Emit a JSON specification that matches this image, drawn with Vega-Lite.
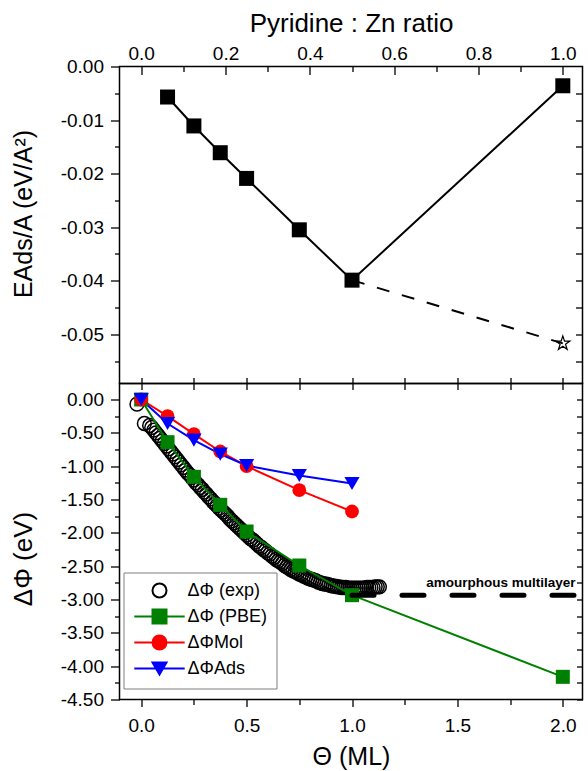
{
  "$schema": "https://vega.github.io/schema/vega-lite/v6.json",
  "padding": {"left": 8.5, "top": 9.5, "right": 0, "bottom": 0},
  "background": "white",
  "spacing": 0,
  "bounds": "flush",
  "config": {
    "view": {"stroke": "black", "strokeWidth": 1.5},
    "axis": {"labelFont": "Liberation Sans", "labelFontSize": 19, "labelColor": "black", "titleFont": "Liberation Sans", "titleFontSize": 25, "titleFontWeight": "normal", "titleColor": "black", "domain": false, "grid": false, "tickColor": "black", "tickWidth": 1.3},
    "legend": {"orient": "none", "legendX": 4, "legendY": 506, "padding": 9, "strokeColor": "#7f7f7f", "fillColor": "white", "labelFont": "Liberation Sans", "labelFontSize": 18, "labelColor": "black", "symbolSize": 196, "symbolStrokeWidth": 2, "symbolOffset": 18, "labelOffset": 19, "rowPadding": 4, "symbolOpacity": 1}
  },
  "datasets": {
    "top": [
      {"r": 0.0625, "e": -0.0057}, {"r": 0.125, "e": -0.0111}, {"r": 0.1875, "e": -0.0161}, {"r": 0.25, "e": -0.0209},
      {"r": 0.375, "e": -0.0305}, {"r": 0.5, "e": -0.0399}, {"r": 1.0, "e": -0.0036}
    ],
    "tdash": [{"r": 0.5, "e": -0.0399}, {"r": 1.0, "e": -0.0517}],
    "star": [{"r": 1.0, "e": -0.0517}],
    "bottom": [
      {"s": "ΔΦ (PBE)", "t": 0, "v": 0}, {"s": "ΔΦ (PBE)", "t": 0.125, "v": -0.64}, {"s": "ΔΦ (PBE)", "t": 0.25, "v": -1.16}, {"s": "ΔΦ (PBE)", "t": 0.375, "v": -1.58}, {"s": "ΔΦ (PBE)", "t": 0.5, "v": -1.98}, {"s": "ΔΦ (PBE)", "t": 0.75, "v": -2.49}, {"s": "ΔΦ (PBE)", "t": 1.0, "v": -2.935}, {"s": "ΔΦ (PBE)", "t": 2.0, "v": -4.16},
      {"s": "ΔΦMol", "t": 0, "v": 0}, {"s": "ΔΦMol", "t": 0.125, "v": -0.25}, {"s": "ΔΦMol", "t": 0.25, "v": -0.52}, {"s": "ΔΦMol", "t": 0.375, "v": -0.78}, {"s": "ΔΦMol", "t": 0.5, "v": -1.0}, {"s": "ΔΦMol", "t": 0.75, "v": -1.36}, {"s": "ΔΦMol", "t": 1.0, "v": -1.68},
      {"s": "ΔΦAds", "t": 0, "v": 0}, {"s": "ΔΦAds", "t": 0.125, "v": -0.36}, {"s": "ΔΦAds", "t": 0.25, "v": -0.61}, {"s": "ΔΦAds", "t": 0.375, "v": -0.82}, {"s": "ΔΦAds", "t": 0.5, "v": -0.99}, {"s": "ΔΦAds", "t": 0.75, "v": -1.14}, {"s": "ΔΦAds", "t": 1.0, "v": -1.26}
    ],
    "exp": [
      {"t": -0.02, "v": -0.07}, {"t": 0.015, "v": -0.36},
      {"t": 0.04, "v": -0.39}, {"t": 0.05, "v": -0.42}, {"t": 0.06, "v": -0.46}, {"t": 0.07, "v": -0.50}, {"t": 0.08, "v": -0.54}, {"t": 0.09, "v": -0.58},
      {"t": 0.10, "v": -0.62}, {"t": 0.11, "v": -0.66}, {"t": 0.12, "v": -0.70}, {"t": 0.13, "v": -0.74}, {"t": 0.14, "v": -0.78}, {"t": 0.15, "v": -0.82},
      {"t": 0.16, "v": -0.86}, {"t": 0.17, "v": -0.90}, {"t": 0.18, "v": -0.94}, {"t": 0.19, "v": -0.98}, {"t": 0.20, "v": -1.02}, {"t": 0.21, "v": -1.06},
      {"t": 0.22, "v": -1.10}, {"t": 0.23, "v": -1.13}, {"t": 0.24, "v": -1.17}, {"t": 0.25, "v": -1.21}, {"t": 0.26, "v": -1.25}, {"t": 0.27, "v": -1.28},
      {"t": 0.28, "v": -1.32}, {"t": 0.29, "v": -1.35}, {"t": 0.30, "v": -1.39}, {"t": 0.31, "v": -1.42}, {"t": 0.32, "v": -1.46}, {"t": 0.33, "v": -1.49},
      {"t": 0.34, "v": -1.53}, {"t": 0.35, "v": -1.56}, {"t": 0.36, "v": -1.59}, {"t": 0.37, "v": -1.63}, {"t": 0.38, "v": -1.66}, {"t": 0.39, "v": -1.69},
      {"t": 0.40, "v": -1.72}, {"t": 0.41, "v": -1.75}, {"t": 0.42, "v": -1.79}, {"t": 0.43, "v": -1.82}, {"t": 0.44, "v": -1.85}, {"t": 0.45, "v": -1.88},
      {"t": 0.46, "v": -1.91}, {"t": 0.47, "v": -1.94}, {"t": 0.48, "v": -1.97}, {"t": 0.49, "v": -2.00}, {"t": 0.50, "v": -2.03}, {"t": 0.51, "v": -2.06},
      {"t": 0.52, "v": -2.09}, {"t": 0.53, "v": -2.11}, {"t": 0.54, "v": -2.14}, {"t": 0.55, "v": -2.17}, {"t": 0.56, "v": -2.20}, {"t": 0.57, "v": -2.22},
      {"t": 0.58, "v": -2.25}, {"t": 0.59, "v": -2.27}, {"t": 0.60, "v": -2.30}, {"t": 0.61, "v": -2.32}, {"t": 0.62, "v": -2.35}, {"t": 0.63, "v": -2.37},
      {"t": 0.64, "v": -2.40}, {"t": 0.65, "v": -2.42}, {"t": 0.66, "v": -2.44}, {"t": 0.67, "v": -2.46}, {"t": 0.68, "v": -2.49}, {"t": 0.69, "v": -2.51},
      {"t": 0.70, "v": -2.53}, {"t": 0.71, "v": -2.55}, {"t": 0.72, "v": -2.57}, {"t": 0.73, "v": -2.58}, {"t": 0.74, "v": -2.60}, {"t": 0.75, "v": -2.62},
      {"t": 0.76, "v": -2.63}, {"t": 0.77, "v": -2.65}, {"t": 0.78, "v": -2.66}, {"t": 0.79, "v": -2.68}, {"t": 0.80, "v": -2.69}, {"t": 0.81, "v": -2.70},
      {"t": 0.82, "v": -2.71}, {"t": 0.83, "v": -2.72}, {"t": 0.84, "v": -2.74}, {"t": 0.85, "v": -2.75}, {"t": 0.86, "v": -2.76}, {"t": 0.87, "v": -2.77},
      {"t": 0.88, "v": -2.77}, {"t": 0.89, "v": -2.78}, {"t": 0.90, "v": -2.79}, {"t": 0.91, "v": -2.80}, {"t": 0.92, "v": -2.80}, {"t": 0.93, "v": -2.81},
      {"t": 0.94, "v": -2.81}, {"t": 0.95, "v": -2.82}, {"t": 0.96, "v": -2.82}, {"t": 0.97, "v": -2.82}, {"t": 0.98, "v": -2.83}, {"t": 0.99, "v": -2.83},
      {"t": 1.00, "v": -2.83}, {"t": 1.01, "v": -2.83}, {"t": 1.02, "v": -2.83}, {"t": 1.03, "v": -2.83}, {"t": 1.04, "v": -2.83}, {"t": 1.05, "v": -2.83},
      {"t": 1.06, "v": -2.83}, {"t": 1.07, "v": -2.82}, {"t": 1.08, "v": -2.82}, {"t": 1.09, "v": -2.82}, {"t": 1.10, "v": -2.82}, {"t": 1.11, "v": -2.81},
      {"t": 1.12, "v": -2.81}, {"t": 1.13, "v": -2.81}
    ],
    "ml": [{"t": 1.0, "t2": 2.3, "v": -2.935}],
    "lbl": [{"t": 2.06, "v": -2.81, "text": "amourphous multilayer"}]
  },
  "vconcat": [
    {
      "width": 463,
      "height": 317,
      "resolve": {"axis": {"x": "independent", "y": "independent"}},
      "layer": [
        {
          "data": {"name": "top"},
          "mark": {"type": "line", "color": "black", "strokeWidth": 2},
          "encoding": {
            "x": {"field": "r", "type": "quantitative", "scale": {"domain": [-0.05147, 1.0467], "nice": false, "zero": false},
                  "axis": {"orient": "top", "values": [0, 0.2, 0.4, 0.6, 0.8, 1.0], "format": ".1f", "ticks": false, "labelPadding": 3, "title": "Pyridine : Zn ratio", "titleFontSize": 26, "titlePadding": 8}},
            "y": {"field": "e", "type": "quantitative", "scale": {"domain": [-0.0592, 0], "nice": false, "zero": false},
                  "axis": {"orient": "left", "values": [0, -0.01, -0.02, -0.03, -0.04, -0.05], "labelExpr": "replace(format(datum.value, '.2f'), '−', '-')", "tickSize": 9, "labelPadding": 7, "title": "EAds/A (eV/A²)", "titlePadding": 24, "titleY": 147}}
          }
        },
        {
          "data": {"name": "tdash"},
          "mark": {"type": "line", "color": "black", "strokeWidth": 2, "strokeDash": [13, 13]},
          "encoding": {
            "x": {"field": "r", "type": "quantitative", "scale": {"domain": [-0.05147, 1.0467], "nice": false, "zero": false},
                  "axis": {"orient": "top", "values": [0, 0.2, 0.4, 0.6, 0.8, 1.0], "labels": false, "tickSize": -8, "title": null}},
            "y": {"field": "e", "type": "quantitative", "scale": {"domain": [-0.0592, 0], "nice": false, "zero": false},
                  "axis": {"orient": "left", "values": [-0.005, -0.015, -0.025, -0.035, -0.045, -0.055], "labels": false, "tickSize": 5, "title": null}}
          }
        },
        {
          "data": {"name": "top"},
          "mark": {"type": "point", "shape": "square", "filled": true, "color": "black", "size": 225, "opacity": 1},
          "encoding": {
            "x": {"field": "r", "type": "quantitative", "scale": {"domain": [-0.05147, 1.0467], "nice": false, "zero": false},
                  "axis": {"orient": "top", "values": [0.1, 0.3, 0.5, 0.7, 0.9], "labels": false, "tickSize": -5, "title": null}},
            "y": {"field": "e", "type": "quantitative", "scale": {"domain": [-0.0592, 0], "nice": false, "zero": false},
                  "axis": {"orient": "right", "values": [-0.005, -0.01, -0.015, -0.02, -0.025, -0.03, -0.035, -0.04, -0.045, -0.05, -0.055], "labels": false, "tickSize": -7, "title": null}}
          }
        },
        {
          "data": {"name": "star"},
          "mark": {"type": "point", "shape": "M0,-1L0.2245,-0.309L0.951,-0.309L0.363,0.118L0.588,0.809L0,0.382L-0.588,0.809L-0.363,0.118L-0.951,-0.309L-0.2245,-0.309Z", "filled": false, "color": "black", "strokeWidth": 1.2, "size": 220, "opacity": 1},
          "encoding": {
            "x": {"field": "r", "type": "quantitative", "scale": {"domain": [-0.05147, 1.0467], "nice": false, "zero": false},
                  "axis": {"orient": "bottom", "values": [0, 0.125, 0.25, 0.375, 0.5, 0.625, 0.75, 0.875, 1.0], "labels": false, "tickSize": -6, "title": null}},
            "y": {"field": "e", "type": "quantitative", "scale": {"domain": [-0.0592, 0], "nice": false, "zero": false}, "axis": null}
          }
        }
      ]
    },
    {
      "width": 463,
      "height": 316,
      "resolve": {"axis": {"x": "independent", "y": "independent"}},
      "layer": [
        {
          "data": {"name": "bottom"},
          "mark": {"type": "point", "opacity": 0, "size": 10},
          "encoding": {
            "x": {"field": "t", "type": "quantitative", "scale": {"domain": [-0.1029, 2.0934], "nice": false, "zero": false},
                  "axis": {"orient": "bottom", "values": [0, 0.5, 1.0, 1.5, 2.0], "format": ".1f", "tickSize": 7, "labelPadding": 10, "title": "Θ (ML)", "titlePadding": 9}},
            "y": {"field": "v", "type": "quantitative", "scale": {"domain": [-4.5, 0.24], "nice": false, "zero": false},
                  "axis": {"orient": "left", "values": [0, -0.5, -1, -1.5, -2, -2.5, -3, -3.5, -4, -4.5], "labelExpr": "replace(format(datum.value, '.2f'), '−', '-')", "tickSize": 9, "labelPadding": 7, "title": "ΔΦ (eV)", "titleFontSize": 26, "titlePadding": 24, "titleY": 175}},
            "fill": {"field": "s", "type": "nominal", "scale": {"domain": ["ΔΦ (exp)", "ΔΦ (PBE)", "ΔΦMol", "ΔΦAds"], "range": ["white", "#008000", "#ff0000", "#0000ff"]}, "legend": {"title": null}},
            "stroke": {"field": "s", "type": "nominal", "scale": {"domain": ["ΔΦ (exp)", "ΔΦ (PBE)", "ΔΦMol", "ΔΦAds"], "range": ["black", "#008000", "#ff0000", "#0000ff"]}, "legend": {"title": null}},
            "shape": {"field": "s", "type": "nominal", "scale": {"domain": ["ΔΦ (exp)", "ΔΦ (PBE)", "ΔΦMol", "ΔΦAds"], "range": ["circle", "M-3.6,0H3.6M-1,-1H1V1H-1Z", "M-3.6,0H3.6M1,0A1,1,0,1,1,-1,0A1,1,0,1,1,1,0Z", "M-3.6,0H3.6M-1,-0.866L1,-0.866L0,0.866Z"]}, "legend": {"title": null}}
          }
        },
        {
          "data": {"name": "exp"},
          "mark": {"type": "point", "shape": "circle", "filled": false, "color": "black", "strokeWidth": 1.5, "size": 190, "opacity": 1},
          "encoding": {
            "x": {"field": "t", "type": "quantitative", "scale": {"domain": [-0.1029, 2.0934], "nice": false, "zero": false},
                  "axis": {"orient": "top", "values": [0, 0.25, 0.5, 0.75, 1.0, 1.25, 1.5, 1.75, 2.0], "labels": false, "tickSize": -6, "title": null}},
            "y": {"field": "v", "type": "quantitative", "scale": {"domain": [-4.5, 0.24], "nice": false, "zero": false},
                  "axis": {"orient": "right", "values": [0, -0.25, -0.5, -0.75, -1, -1.25, -1.5, -1.75, -2, -2.25, -2.5, -2.75, -3, -3.25, -3.5, -3.75, -4, -4.25, -4.5], "labels": false, "tickSize": -6, "title": null}}
          }
        },
        {
          "data": {"name": "bottom"},
          "transform": [{"filter": "datum.s === 'ΔΦ (PBE)'"}],
          "mark": {"type": "line", "color": "#008000", "strokeWidth": 2},
          "encoding": {
            "x": {"field": "t", "type": "quantitative", "scale": {"domain": [-0.1029, 2.0934], "nice": false, "zero": false},
                  "axis": {"orient": "bottom", "values": [0.25, 0.75, 1.25, 1.75], "labels": false, "tickSize": 5, "title": null}},
            "y": {"field": "v", "type": "quantitative", "scale": {"domain": [-4.5, 0.24], "nice": false, "zero": false},
                  "axis": {"orient": "left", "values": [-0.25, -0.75, -1.25, -1.75, -2.25, -2.75, -3.25, -3.75, -4.25], "labels": false, "tickSize": 5, "title": null}}
          }
        },
        {
          "data": {"name": "bottom"},
          "transform": [{"filter": "datum.s === 'ΔΦMol'"}],
          "mark": {"type": "line", "color": "#ff0000", "strokeWidth": 2},
          "encoding": {
            "x": {"field": "t", "type": "quantitative", "scale": {"domain": [-0.1029, 2.0934], "nice": false, "zero": false}, "axis": null},
            "y": {"field": "v", "type": "quantitative", "scale": {"domain": [-4.5, 0.24], "nice": false, "zero": false}, "axis": null}
          }
        },
        {
          "data": {"name": "bottom"},
          "transform": [{"filter": "datum.s === 'ΔΦAds'"}],
          "mark": {"type": "line", "color": "#0000ff", "strokeWidth": 2},
          "encoding": {
            "x": {"field": "t", "type": "quantitative", "scale": {"domain": [-0.1029, 2.0934], "nice": false, "zero": false}, "axis": null},
            "y": {"field": "v", "type": "quantitative", "scale": {"domain": [-4.5, 0.24], "nice": false, "zero": false}, "axis": null}
          }
        },
        {
          "data": {"name": "bottom"},
          "transform": [{"filter": "datum.s === 'ΔΦ (PBE)'"}],
          "mark": {"type": "point", "shape": "square", "filled": true, "color": "#008000", "size": 196, "opacity": 1},
          "encoding": {
            "x": {"field": "t", "type": "quantitative", "scale": {"domain": [-0.1029, 2.0934], "nice": false, "zero": false}, "axis": null},
            "y": {"field": "v", "type": "quantitative", "scale": {"domain": [-4.5, 0.24], "nice": false, "zero": false}, "axis": null}
          }
        },
        {
          "data": {"name": "bottom"},
          "transform": [{"filter": "datum.s === 'ΔΦMol'"}],
          "mark": {"type": "point", "shape": "circle", "filled": true, "color": "#ff0000", "size": 190, "opacity": 1},
          "encoding": {
            "x": {"field": "t", "type": "quantitative", "scale": {"domain": [-0.1029, 2.0934], "nice": false, "zero": false}, "axis": null},
            "y": {"field": "v", "type": "quantitative", "scale": {"domain": [-4.5, 0.24], "nice": false, "zero": false}, "axis": null}
          }
        },
        {
          "data": {"name": "bottom"},
          "transform": [{"filter": "datum.s === 'ΔΦAds'"}],
          "mark": {"type": "point", "shape": "triangle-down", "filled": true, "color": "#0000ff", "size": 230, "opacity": 1},
          "encoding": {
            "x": {"field": "t", "type": "quantitative", "scale": {"domain": [-0.1029, 2.0934], "nice": false, "zero": false}, "axis": null},
            "y": {"field": "v", "type": "quantitative", "scale": {"domain": [-4.5, 0.24], "nice": false, "zero": false}, "axis": null}
          }
        },
        {
          "data": {"name": "ml"},
          "mark": {"type": "rule", "color": "black", "strokeWidth": 5, "strokeDash": [22, 28], "strokeCap": "round", "clip": true},
          "encoding": {
            "x": {"field": "t", "type": "quantitative", "scale": {"domain": [-0.1029, 2.0934], "nice": false, "zero": false}, "axis": null},
            "x2": {"field": "t2"},
            "y": {"field": "v", "type": "quantitative", "scale": {"domain": [-4.5, 0.24], "nice": false, "zero": false}, "axis": null}
          }
        },
        {
          "data": {"name": "lbl"},
          "mark": {"type": "text", "align": "right", "baseline": "alphabetic", "font": "Liberation Sans", "fontSize": 13.5, "fontWeight": "bold", "color": "black"},
          "encoding": {
            "x": {"field": "t", "type": "quantitative", "scale": {"domain": [-0.1029, 2.0934], "nice": false, "zero": false}, "axis": null},
            "y": {"field": "v", "type": "quantitative", "scale": {"domain": [-4.5, 0.24], "nice": false, "zero": false}, "axis": null},
            "text": {"field": "text"}
          }
        }
      ]
    }
  ]
}
